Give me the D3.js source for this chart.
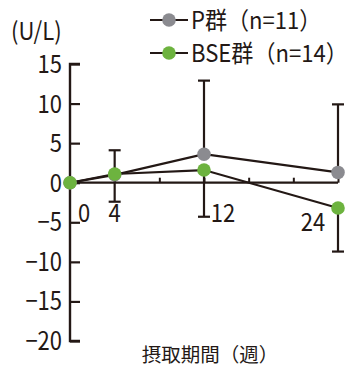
<!DOCTYPE html>
<html><head><meta charset="utf-8">
<script src="https://cdn.jsdelivr.net/npm/d3@7/dist/d3.min.js"></script>
<style>
html,body{margin:0;padding:0;background:#fff;}
svg{display:block;}
text{font-family:"Noto Sans CJK JP","Noto Sans",sans-serif;fill:#231815;}
</style></head>
<body>
<svg id="chart" width="347" height="368"></svg>
<script>
// ---- data ----
const weeks = [0, 4, 12, 24];
const seriesNames = ["P群（n=11）", "BSE群（n=14）"];
const pMeans = [0, 1.0, 3.6, 1.3];
const pUpper = [null, 4.1, 12.9, 9.9];     // upper whisker end (mean + SD)
const bseMeans = [0, 1.1, 1.6, -3.2];
const bseLower = [null, -2.4, -4.3, -8.7]; // lower whisker end (mean - SD)
const yTicks = [15, 10, 5, 0, -5, -10, -15, -20];
const xMinorTicks = [4, 8, 12, 16, 20, 24];
const xTickLabels = ["0", "4", "12", "24"];
const yUnit = "(U/L)";
const xTitle = "摂取期間（週）";

const ink = "#231815", gray = "#8b8b90", green = "#6db33f";
const svg = d3.select("#chart");
const x = d3.scaleLinear().domain([0, 24]).range([70, 338]);
const y = d3.scaleLinear().domain([15, -20]).range([64, 341]);

// y axis
const yAxis = d3.axisRight(y).tickValues(yTicks).tickSize(10).tickFormat("");
const gy = svg.append("g").attr("transform", `translate(${x(0)},0)`).call(yAxis);
gy.select(".domain").attr("stroke", ink).attr("stroke-width", 2.4).attr("d", `M10,${y(15)}H0V${y(-20)}H10`);
gy.selectAll(".tick line").attr("stroke", ink).attr("stroke-width", 2.2);
svg.append("g").selectAll("text").data(yTicks).join("text")
  .attr("x", 62).attr("y", d => y(d) + 9)
  .attr("text-anchor", "end").attr("font-size", 25)
  .attr("transform", d => `translate(62,0) scale(0.88,1) translate(-62,0)`)
  .text(d => d < 0 ? "\u2212" + Math.abs(d) : String(d));
svg.append("text").attr("x", 11).attr("y", 40).attr("font-size", 24.5)
  .attr("transform", "translate(11,0) scale(0.9,1) translate(-11,0)").text(yUnit);

// x axis
const xAxis = d3.axisTop(x).tickValues(xMinorTicks).tickSize(5).tickFormat("");
const gx = svg.append("g").attr("transform", `translate(0,${y(0)})`).call(xAxis);
gx.select(".domain").attr("stroke", ink).attr("stroke-width", 2.2).attr("d", `M${x(0)},0H${x(24)}`);
gx.selectAll(".tick line").attr("stroke", ink).attr("stroke-width", 2);

const xLabelPos = [
  {w: 0, dx: 14, dy: 39}, {w: 4, dx: 0, dy: 39}, {w: 12, dx: 19, dy: 39}, {w: 24, dx: -25, dy: 48}
];
svg.append("g").selectAll("text").data(xLabelPos).join("text")
  .attr("x", d => x(d.w) + d.dx).attr("y", d => y(0) + d.dy)
  .attr("text-anchor", "middle").attr("font-size", 25)
  .attr("transform", d => `translate(${x(d.w) + d.dx},0) scale(0.88,1) translate(${-(x(d.w) + d.dx)},0)`)
  .text((d, i) => xTickLabels[i]);

svg.append("text").attr("x", 210).attr("y", 362).attr("text-anchor", "middle")
  .attr("font-size", 19.5).text(xTitle);

// error bars
const capW = 6;
function bars(vals, ends) {
  const g = svg.append("g").attr("stroke", ink).attr("stroke-width", 2.2).attr("fill", "none");
  weeks.forEach((w, i) => {
    if (ends[i] === null) return;
    g.append("line").attr("x1", x(w)).attr("x2", x(w)).attr("y1", y(vals[i])).attr("y2", y(ends[i]));
    g.append("line").attr("x1", x(w) - capW).attr("x2", x(w) + capW).attr("y1", y(ends[i])).attr("y2", y(ends[i]));
  });
}
bars(pMeans, pUpper);
bars(bseMeans, bseLower);

// lines
const line = d3.line().x((d, i) => x(weeks[i])).y(d => y(d));
svg.append("path").datum(pMeans).attr("d", line).attr("fill", "none").attr("stroke", ink).attr("stroke-width", 2.2);
svg.append("path").datum(bseMeans).attr("d", line).attr("fill", "none").attr("stroke", ink).attr("stroke-width", 2.2);

// markers
svg.append("g").selectAll("circle").data(pMeans).join("circle")
  .attr("cx", (d, i) => x(weeks[i])).attr("cy", d => y(d)).attr("r", 6.8).attr("fill", gray);
svg.append("g").selectAll("circle").data(bseMeans).join("circle")
  .attr("cx", (d, i) => x(weeks[i])).attr("cy", d => y(d)).attr("r", 6.8).attr("fill", green);

// legend
const legend = svg.append("g");
[gray, green].forEach((c, i) => {
  const ly = 20 + i * 33;
  legend.append("line").attr("x1", 150).attr("x2", 188).attr("y1", ly).attr("y2", ly)
    .attr("stroke", ink).attr("stroke-width", 2.2);
  legend.append("circle").attr("cx", 169).attr("cy", ly).attr("r", 6.8).attr("fill", c);
  legend.append("text").attr("x", 191).attr("y", ly + 9).attr("font-size", 24)
    .attr("transform", `translate(191,0) scale(0.92,1) translate(-191,0)`).text(seriesNames[i]);
});
</script>
</body></html>
